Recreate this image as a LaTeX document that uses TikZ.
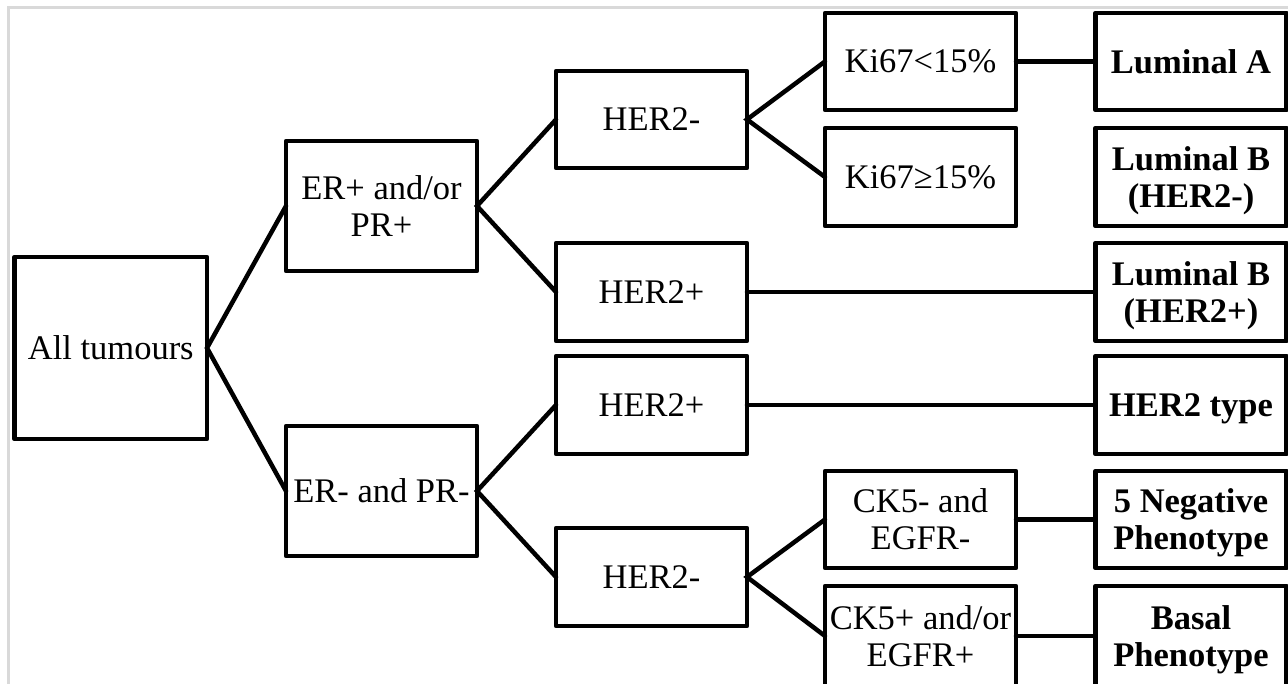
\documentclass[tikz,border=0pt]{standalone}
\usepackage{fontspec}
\setmainfont{Liberation Serif}
\begin{document}
\begin{tikzpicture}[x=1pt,y=-1pt,
  box/.style={draw,line width=4.5pt,line join=round,inner sep=0pt,outer sep=0pt,
    align=center,font=\fontsize{34.5}{37}\selectfont,text depth=0pt},
  boxw/.style={box,minimum width=191pt},
  res/.style={boxw,font=\fontsize{34.5}{37}\selectfont\bfseries},
  conn/.style={line width=4.5pt,line cap=round}]
\useasboundingbox (0,0) rectangle (1288,684);
\draw[line width=3pt,color=black!15] (8.5,684) -- (8.5,7.5) -- (1288,7.5);
% column 1
\node[box,minimum width=192.5pt,minimum height=182pt] (all) at (110.75,348) {All tumours};
% column 2
\node[boxw,minimum height=130pt] (erp) at (381.5,206) {ER+ and/or\\PR+};
\node[boxw,minimum height=130pt] (ern) at (381.5,491) {ER- and PR-};
% column 3
\node[boxw,minimum height=97pt] (hma) at (651.5,119.5) {HER2-};
\node[boxw,minimum height=98pt] (hpa) at (651.5,292) {HER2+};
\node[boxw,minimum height=98pt] (hpb) at (651.5,405) {HER2+};
\node[boxw,minimum height=98pt] (hmb) at (651.5,577) {HER2-};
% column 4
\node[boxw,minimum height=97pt] (kia) at (920.5,61.5) {Ki67<15\%};
\node[boxw,minimum height=98pt] (kib) at (920.5,177) {Ki67≥15\%};
\node[boxw,minimum height=97pt] (cka) at (920.5,519.5) {CK5- and\\EGFR-};
\node[boxw,minimum height=100pt] (ckb) at (920.5,636) {CK5+ and/or\\EGFR+};
% column 5
\node[res,minimum height=97pt] (la) at (1191,61.5) {Luminal A};
\node[res,minimum height=98pt] (lbm) at (1191,177) {Luminal B\\(HER2-)};
\node[res,minimum height=98pt] (lbp) at (1191,292) {Luminal B\\(HER2+)};
\node[res,minimum height=98pt] (ht) at (1191,405) {HER2 type};
\node[res,minimum height=97pt] (fn) at (1191,519.5) {5 Negative\\Phenotype};
\node[res,minimum height=100pt] (bp) at (1191,636) {Basal\\Phenotype};
% connectors
\draw[conn] (erp.west) -- (all.east) -- (ern.west);
\draw[conn] (hma.west) -- (erp.east) -- (hpa.west);
\draw[conn] (hpb.west) -- (ern.east) -- (hmb.west);
\draw[conn] (kia.west) -- (hma.east) -- (kib.west);
\draw[conn] (cka.west) -- (hmb.east) -- (ckb.west);
\draw[conn] (kia.east) -- (la.west);
\draw[conn] (hpa.east) -- (lbp.west);
\draw[conn] (hpb.east) -- (ht.west);
\draw[conn] (cka.east) -- (fn.west);
\draw[conn] (ckb.east) -- (bp.west);
\end{tikzpicture}
\end{document}
